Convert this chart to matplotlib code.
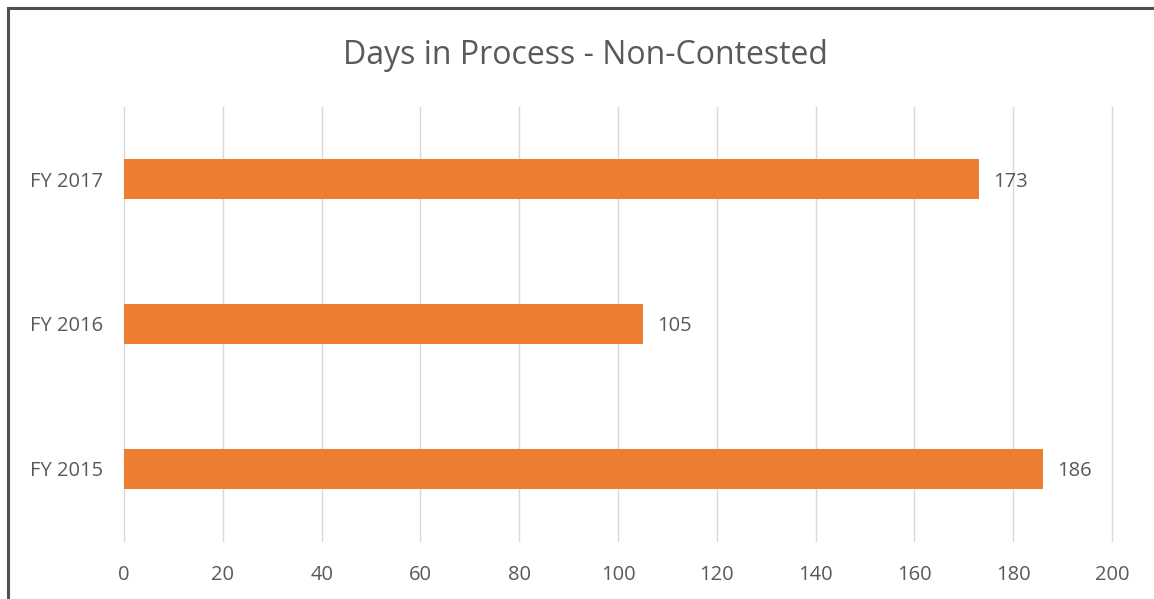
import matplotlib
matplotlib.use("Agg")
import matplotlib.pyplot as plt
from matplotlib.lines import Line2D

categories = ["FY 2015", "FY 2016", "FY 2017"]
days = [186, 105, 173]
x_ticks = [0, 20, 40, 60, 80, 100, 120, 140, 160, 180, 200]

plt.rcParams["font.family"] = ["Open Sans", "DejaVu Sans"]
TEXT = "#595959"
BAR = "#ED7D31"
GRID = "#D9D9D9"

fig = plt.figure(figsize=(11.54, 5.99), dpi=100)
ax = fig.add_axes([0.1075, 0.0968, 0.8561, 0.7246])

ypos = list(range(len(categories)))
ax.barh(ypos, days, height=0.277, color=BAR, zorder=3)

for y, v in zip(ypos, days):
    ax.text(v + 3, y, f"{v}", va="center_baseline", ha="left", fontsize=14.5, color=TEXT)

ax.set_xlim(0, 200)
ax.set_ylim(-0.5, 2.5)
ax.set_xticks(x_ticks)
ax.set_xticklabels([str(t) for t in x_ticks], fontsize=14.5, color=TEXT)
ax.set_yticks(ypos)
ax.set_yticklabels(categories, fontsize=14.5, color=TEXT, va="center_baseline")
ax.tick_params(axis="both", length=0)
ax.tick_params(axis="x", pad=17.5)
ax.tick_params(axis="y", pad=15)

ax.xaxis.grid(True, color=GRID, linewidth=1.0, zorder=0)
for gl in ax.get_xgridlines():
    gl.set_clip_on(False)
ax.set_axisbelow(True)
for s in ax.spines.values():
    s.set_visible(False)

fig.text(0.507, 0.908, "Days in Process - Non-Contested", ha="center", va="center",
         fontsize=23, color=TEXT)

# frame along the top and left edges of the figure
fig.add_artist(Line2D([0.0065, 1.0], [0.9866, 0.9866], transform=fig.transFigure,
                      color="#505050", linewidth=2.2))
fig.add_artist(Line2D([0.0065, 0.0065], [0.0, 0.9866], transform=fig.transFigure,
                      color="#505050", linewidth=2.2))

fig.savefig("out.png", dpi=100)
